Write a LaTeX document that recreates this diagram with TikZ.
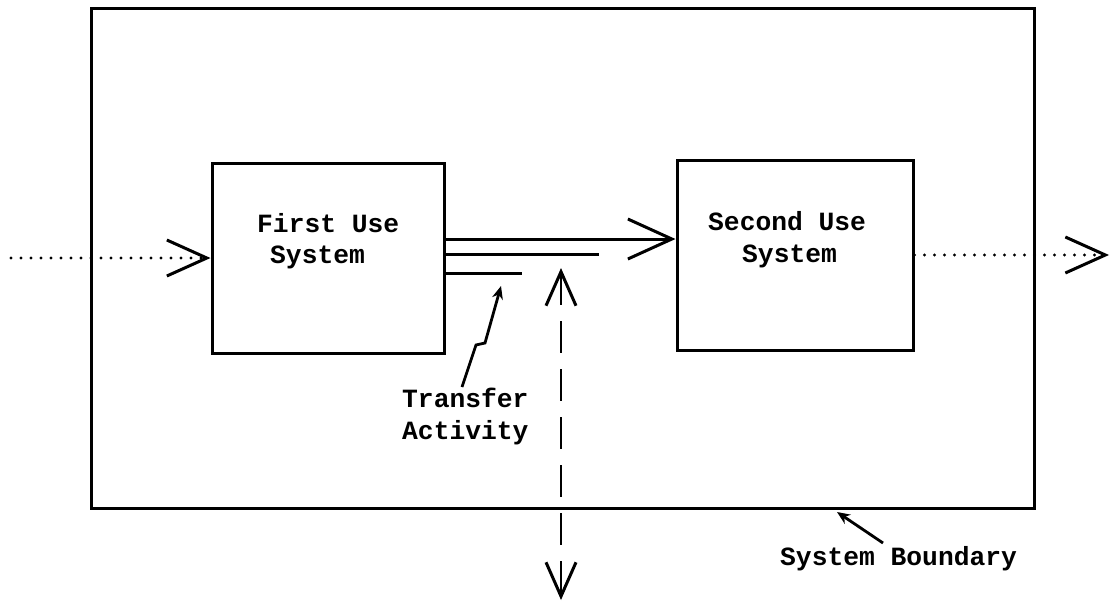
\documentclass[tikz,border=0pt]{standalone}
\usepackage{fontspec}
\setmonofont{Liberation Mono}
\usetikzlibrary{arrows.meta,calc}
\begin{document}
\begin{tikzpicture}[x=1pt,y=-1pt,
  lbl/.style={font=\fontsize{26.3}{31}\selectfont\ttfamily\bfseries, inner sep=0pt, anchor=base west},
  box/.style={draw, line width=3pt, inner sep=0pt},
  ln/.style={line width=3pt},
  dots/.style={line width=3.2pt, line cap=round, dash pattern=on 0pt off 10pt},
  bigbarb/.style={-{Straight Barb[length=40pt,width=36pt,line width=3pt]}},
  dashbarb/.style={{Straight Barb[length=34pt,width=30pt,line width=3pt]}-{Straight Barb[length=34pt,width=30pt,line width=3pt]}},
  ptr/.style={line width=2.8pt, -{Stealth[length=13pt,width=11pt]}}
]
\useasboundingbox (0,0) rectangle (1111,603);
% system boundary
\node[box, minimum width=943pt, minimum height=500pt] (boundary) at (562.5,258) {};
% boxes
\node[box, minimum width=232pt, minimum height=190pt] (first) at (328,258) {};
\node[box, minimum width=236pt, minimum height=190pt] (second) at (795,255) {};
% labels
\node[lbl] (firstA) at (257,232) {First Use};
\node[lbl] (firstB) at (270,263) {System};
\node[lbl] (secondA) at (708,230) {Second Use};
\node[lbl] (secondB) at (742,262) {System};
\node[lbl] (xferA) at (402,407) {Transfer};
\node[lbl] (xferB) at (402,439) {Activity};
\node[lbl] (bnd) at (780,565) {System Boundary};
% helper coordinates
\coordinate (yA) at (0,239);
\coordinate (yB) at (0,254);
\coordinate (yC) at (0,273);
\coordinate (endB) at (599,254);
\coordinate (endC) at (522,273);
\coordinate (inL) at (11,258);
\coordinate (outR) at (1109,255);
\coordinate (upTip) at (561,268);
\coordinate (downTip) at (561,600);
\coordinate (xferTail) at (462,387);
\coordinate (xferTip) at (501,286);
\coordinate (bndTail) at (883,543);
\coordinate (bndTip) at (837,512);
% flows
\draw[dots, bigbarb] (inL) -- (first.west);
\draw[dots, bigbarb] (second.east) -- (outR);
\draw[ln, -{Straight Barb[length=44pt,width=40pt,line width=3pt]}] (first.east |- yA) -- (second.west |- yA);
\draw[ln] (first.east |- yB) -- (endB);
\draw[ln] (first.east |- yC) -- (endC);
\draw[line width=2.6pt, dash pattern=on 32pt off 16pt, dashbarb] (upTip) -- (downTip);
% pointers
\draw[ptr] (xferTail) -- (476,345) -- (485,343) -- (xferTip);
\draw[ptr] (bndTail) -- (bndTip);
\end{tikzpicture}
\end{document}
